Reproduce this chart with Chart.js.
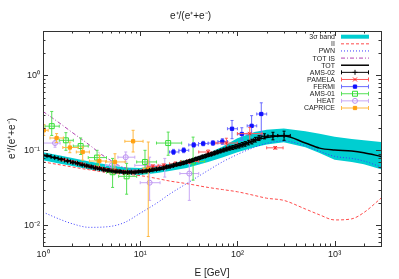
<!DOCTYPE html>
<html>
<head>
<meta charset="utf-8">
<script src="https://cdn.jsdelivr.net/npm/chart.js@4/dist/chart.umd.min.js"></script>
<style>
  body { margin: 0; background: #fff; }
</style>
</head>
<body>
<canvas id="ratio-chart" width="399" height="279"></canvas>
<script>
// model curves, all on one energy grid (GeV)
const modelE = [1, 1.5, 2, 3, 5, 7, 10, 15, 20, 30, 50, 70, 100, 150, 200, 300, 500, 700, 1000, 1500, 2000, 3000];
const bandLow = [0.074, 0.066, 0.062, 0.056, 0.050, 0.048, 0.047, 0.050, 0.053, 0.058, 0.070, 0.080, 0.094, 0.110, 0.120, 0.128, 0.110, 0.092, 0.075, 0.070, 0.065, 0.056];
const bandHigh = [0.094, 0.085, 0.079, 0.071, 0.063, 0.059, 0.058, 0.062, 0.066, 0.074, 0.092, 0.112, 0.145, 0.175, 0.188, 0.195, 0.180, 0.166, 0.152, 0.142, 0.136, 0.129];
const secondary = [0.070, 0.064, 0.060, 0.055, 0.050, 0.048, 0.046, 0.042, 0.039, 0.036, 0.032, 0.030, 0.028, 0.025, 0.023, 0.0215, 0.0165, 0.0138, 0.0118, 0.0122, 0.0148, 0.023];
const pwn = [0.015, 0.012, 0.0105, 0.0094, 0.0097, 0.011, 0.0145, 0.020, 0.026, 0.036, 0.054, 0.070, 0.088, 0.110, 0.124, 0.133, 0.115, 0.097, 0.083, 0.078, 0.072, 0.060];
const total = [0.086, 0.077, 0.071, 0.063, 0.056, 0.053, 0.052, 0.055, 0.059, 0.067, 0.083, 0.097, 0.113, 0.135, 0.148, 0.155, 0.125, 0.107, 0.101, 0.098, 0.093, 0.083];

const totIsE = [1, 1.5, 2, 3, 4, 5, 6, 8, 10];
const totIs = [0.33, 0.228, 0.173, 0.118, 0.088, 0.073, 0.063, 0.056, 0.053];

// AMS-02: bin edges, values, errors
const amsEdges = [1.0, 1.21, 1.43, 1.66, 1.92, 2.15, 2.4, 2.67, 2.97, 3.29, 3.64, 4.02, 4.43, 4.88, 5.37, 5.9, 6.47, 7.09, 7.76, 8.48, 9.26, 10.1, 11.0, 12.0, 13.0, 14.1, 15.3, 16.6, 18.0, 19.5, 21.1, 22.8, 24.7, 26.7, 28.8, 31.1, 33.5, 36.1, 38.9, 41.9, 45.1, 48.5, 52.2, 56.1, 60.3, 64.8, 69.7, 74.9, 80.5, 86.5, 93.0, 100, 108, 116, 125, 135, 147, 160, 175, 206, 260, 350];
const amsE = [1.1, 1.32, 1.54, 1.79, 2.03, 2.27, 2.53, 2.82, 3.13, 3.46, 3.83, 4.22, 4.65, 5.12, 5.63, 6.18, 6.77, 7.42, 8.11, 8.86, 9.66, 10.5, 11.5, 12.5, 13.5, 14.7, 15.9, 17.3, 18.7, 20.3, 22.0, 23.7, 25.7, 27.7, 29.9, 32.3, 34.8, 37.5, 40.4, 43.5, 46.8, 50.3, 54.1, 58.2, 62.5, 67.2, 72.3, 77.7, 83.5, 89.7, 96.5, 104, 112, 120, 130, 141, 153, 167, 190, 232, 302];
const amsRatio = [0.085, 0.080, 0.076, 0.072, 0.069, 0.067, 0.064, 0.062, 0.060, 0.058, 0.057, 0.055, 0.054, 0.053, 0.052, 0.052, 0.051, 0.051, 0.051, 0.051, 0.052, 0.052, 0.053, 0.054, 0.055, 0.056, 0.057, 0.058, 0.060, 0.061, 0.063, 0.065, 0.066, 0.068, 0.070, 0.072, 0.074, 0.077, 0.079, 0.082, 0.084, 0.087, 0.089, 0.092, 0.095, 0.098, 0.101, 0.104, 0.107, 0.109, 0.112, 0.115, 0.119, 0.122, 0.127, 0.131, 0.139, 0.146, 0.154, 0.156, 0.158];
const amsErr = [0.0015, 0.0015, 0.0015, 0.0015, 0.0015, 0.0015, 0.0015, 0.0015, 0.0015, 0.0015, 0.0015, 0.0015, 0.0015, 0.0015, 0.0015, 0.0015, 0.0015, 0.0015, 0.0015, 0.0015, 0.0017, 0.0017, 0.0018, 0.0018, 0.0019, 0.002, 0.002, 0.0021, 0.0022, 0.0023, 0.0024, 0.0025, 0.0026, 0.0027, 0.0028, 0.003, 0.0031, 0.0033, 0.0035, 0.0037, 0.0039, 0.0041, 0.0043, 0.0046, 0.0049, 0.0052, 0.0055, 0.0058, 0.0062, 0.0066, 0.007, 0.0075, 0.008, 0.0085, 0.009, 0.0095, 0.01, 0.011, 0.012, 0.018, 0.022];

const pamelaE = [1.64, 2.0, 2.45, 3.0, 3.7, 4.5, 5.5, 6.8, 8.4, 10.5, 13.5, 17.5, 23, 32, 50, 77, 134, 245];
const pamelaElo = [1.5, 1.8, 2.2, 2.7, 3.4, 4.1, 5.0, 6.1, 7.5, 9.3, 11.8, 15.3, 20, 26, 40, 60, 100, 200];
const pamelaEhi = [1.8, 2.2, 2.7, 3.4, 4.1, 5.0, 6.1, 7.5, 9.3, 11.8, 15.3, 20, 26, 40, 60, 100, 180, 295];
const pamelaRatio = [0.075, 0.07, 0.066, 0.061, 0.058, 0.055, 0.054, 0.052, 0.051, 0.053, 0.061, 0.063, 0.066, 0.071, 0.095, 0.125, 0.167, 0.108];
const pamelaErr = [0.002, 0.002, 0.002, 0.002, 0.002, 0.002, 0.002, 0.002, 0.002, 0.002, 0.003, 0.003, 0.004, 0.004, 0.006, 0.02, 0.035, 0.004];

const fermiE = [22, 28, 35.5, 44.5, 56, 70, 88, 111, 140, 176];
const fermiElo = [20, 25, 31.6, 39.8, 50, 63, 79, 100, 126, 158];
const fermiEhi = [25, 31.6, 39.8, 50, 63, 79, 100, 126, 158, 200];
const fermiRatio = [0.095, 0.1, 0.118, 0.123, 0.125, 0.131, 0.194, 0.165, 0.212, 0.305];
const fermiLo = [0.088, 0.093, 0.11, 0.115, 0.116, 0.12, 0.143, 0.136, 0.167, 0.16];
const fermiHi = [0.103, 0.108, 0.127, 0.132, 0.135, 0.143, 0.25, 0.2, 0.29, 0.43];

const ams01E = [1.23, 1.72, 2.44, 3.6, 5.2, 7.25, 11.2, 19.4, 35];
const ams01Elo = [1.05, 1.47, 2.05, 2.92, 4.5, 6.0, 9.2, 14.7, 26.7];
const ams01Ehi = [1.47, 2.05, 2.92, 4.5, 6.0, 9.2, 14.7, 26.7, 46];
const ams01Ratio = [0.21, 0.136, 0.114, 0.08, 0.051, 0.045, 0.07, 0.125, 0.071];
const ams01Lo = [0.158, 0.10, 0.088, 0.063, 0.032, 0.026, 0.05, 0.086, 0.04];
const ams01Hi = [0.33, 0.172, 0.146, 0.10, 0.078, 0.067, 0.10, 0.175, 0.15];

const heatE = [1.33, 5.1, 7.1, 12.0, 12.5, 17.9, 32];
const heatElo = [1.0, 4.4, 5.9, 8.8, 10.0, 15.0, 25.6];
const heatEhi = [1.5, 5.9, 8.8, 16.0, 16.0, 21.0, 40.0];
const heatRatio = [0.125, 0.063, 0.081, 0.063, 0.037, 0.060, 0.049];
const heatLo = [0.11, 0.055, 0.07, 0.055, 0.0215, 0.044, 0.0215];
const heatHi = [0.145, 0.072, 0.095, 0.072, 0.081, 0.078, 0.066];

const capriceE = [1.02, 1.38, 1.89, 2.56, 3.8, 5.5, 8.45, 12.1];
const capriceElo = [0.93, 1.18, 1.6, 2.2, 3.0, 4.4, 6.95, 10.7];
const capriceEhi = [1.13, 1.62, 2.3, 3.0, 4.5, 7.0, 10.7, 15.0];
const capriceRatio = [0.185, 0.146, 0.109, 0.095, 0.072, 0.070, 0.132, 0.057];
const capriceLo = [0.158, 0.127, 0.093, 0.074, 0.060, 0.054, 0.095, 0.0071];
const capriceHi = [0.22, 0.167, 0.129, 0.111, 0.086, 0.090, 0.185, 0.129];

const xTicks = [1, 10, 100, 1000];
const yTicks = [0.01, 0.1, 1];

const FONT = 'Liberation Sans, Arial, sans-serif';
const SUP = { '0': '⁰', '1': '¹', '2': '²', '3': '³', '-': '⁻' };

function pow10Label(v) {
    const e = Math.round(Math.log10(v));
    return '10' + String(e).split('').map(c => SUP[c]).join('');
}

function pts(xs, ys) {
    return xs.map((x, i) => ({ x: x, y: ys[i] }));
}

function lineSet(label, ys, color, dash, width, order) {
    return {
        label: label, data: pts(modelE, ys), showLine: true, pointRadius: 0,
        borderColor: color, borderWidth: width, borderDash: dash, fill: false,
        cubicInterpolationMode: 'monotone', order: order, kind: 'line'
    };
}

function pointSet(label, xs, ys, err, style, radius, color, fillColor, barColor, order) {
    return {
        label: label, data: pts(xs, ys), showLine: false,
        pointStyle: style, pointRadius: radius, borderWidth: 1,
        borderColor: color, backgroundColor: fillColor,
        err: err, barColor: barColor, order: order, kind: 'points'
    };
}

const datasets = [
    { label: '', data: pts(modelE, bandLow), showLine: true, pointRadius: 0, borderWidth: 0, fill: false, order: 30 },
    { label: '3σ band', data: pts(modelE, bandHigh), showLine: true, pointRadius: 0, borderWidth: 0,
      fill: '-1', backgroundColor: '#00ced1', borderColor: '#00ced1', order: 30, kind: 'band' },
    lineSet('II', secondary, '#ff4a4a', [3, 2], 1, 20),
    lineSet('PWN', pwn, '#3a3aff', [1, 2], 1, 19),
    {
        label: 'TOT IS', data: pts(totIsE, totIs), showLine: true, pointRadius: 0,
        borderColor: '#b040b0', borderWidth: 1, borderDash: [4, 2, 1, 2],
        cubicInterpolationMode: 'monotone', order: 18, kind: 'line'
    },
    lineSet('TOT', total, '#000000', [], 1.5, 13),
    pointSet('AMS-02', amsE, amsRatio, {
        xlo: amsEdges.slice(0, -1), xhi: amsEdges.slice(1),
        ylo: amsRatio.map((v, i) => v - amsErr[i]), yhi: amsRatio.map((v, i) => v + amsErr[i])
    }, 'cross', 2.5, '#000', '#000', '#000', 7),
    pointSet('PAMELA', pamelaE, pamelaRatio, {
        xlo: pamelaElo, xhi: pamelaEhi,
        ylo: pamelaRatio.map((v, i) => v - pamelaErr[i]), yhi: pamelaRatio.map((v, i) => v + pamelaErr[i])
    }, 'crossRot', 2.5, '#ff2020', '#ff2020', '#ff5a5a', 8),
    pointSet('FERMI', fermiE, fermiRatio, { xlo: fermiElo, xhi: fermiEhi, ylo: fermiLo, yhi: fermiHi },
        'rect', 2.3, '#1010ff', '#1010ff', '#6a6aff', 9),
    pointSet('AMS-01', ams01E, ams01Ratio, { xlo: ams01Elo, xhi: ams01Ehi, ylo: ams01Lo, yhi: ams01Hi },
        'rect', 3.5, '#33dd33', 'rgba(0,0,0,0)', '#55e055', 11),
    pointSet('HEAT', heatE, heatRatio, { xlo: heatElo, xhi: heatEhi, ylo: heatLo, yhi: heatHi },
        'circle', 2.5, '#bb90f0', 'rgba(0,0,0,0)', '#c8a8f5', 12),
    pointSet('CAPRICE', capriceE, capriceRatio, { xlo: capriceElo, xhi: capriceEhi, ylo: capriceLo, yhi: capriceHi },
        'rect', 2.3, '#ffa010', '#ffa010', '#ffb840', 10)
];

// gnuplot style error bars with small caps, drawn under each set's markers
const errorBars = {
    id: 'errorBars',
    beforeDatasetDraw(chart, args) {
        const ds = chart.data.datasets[args.index];
        if (!ds.err) return;
        const { ctx, chartArea: a, scales: { x, y } } = chart;
        const c = 1.5;
        ctx.save();
        ctx.beginPath();
        ctx.rect(a.left, a.top, a.right - a.left, a.bottom - a.top);
        ctx.clip();
        ctx.strokeStyle = ds.barColor;
        ctx.lineWidth = 1;
        ctx.beginPath();
        ds.data.forEach((p, i) => {
            const px = x.getPixelForValue(p.x), py = y.getPixelForValue(p.y);
            const x0 = x.getPixelForValue(ds.err.xlo[i]), x1 = x.getPixelForValue(ds.err.xhi[i]);
            const y0 = y.getPixelForValue(ds.err.ylo[i]), y1 = y.getPixelForValue(ds.err.yhi[i]);
            ctx.moveTo(x0, py); ctx.lineTo(x1, py);
            ctx.moveTo(px, y0); ctx.lineTo(px, y1);
            ctx.moveTo(x0, py - c); ctx.lineTo(x0, py + c);
            ctx.moveTo(x1, py - c); ctx.lineTo(x1, py + c);
            ctx.moveTo(px - c, y0); ctx.lineTo(px + c, y0);
            ctx.moveTo(px - c, y1); ctx.lineTo(px + c, y1);
        });
        ctx.stroke();
        ctx.restore();
    }
};

// box with inward major and minor ticks on all four sides
const frame = {
    id: 'frame',
    afterDraw(chart) {
        const { ctx, chartArea: a, scales: { x, y } } = chart;
        ctx.save();
        ctx.strokeStyle = '#333';
        ctx.lineWidth = 1;
        ctx.beginPath();
        for (let d = 0; d <= 3; d++) {
            for (let k = 1; k <= 9; k++) {
                const v = k * Math.pow(10, d);
                if (v > x.max) break;
                const px = Math.round(x.getPixelForValue(v)) + 0.5;
                const len = k === 1 ? 5 : 2.5;
                ctx.moveTo(px, a.bottom); ctx.lineTo(px, a.bottom - len);
                ctx.moveTo(px, a.top); ctx.lineTo(px, a.top + len);
            }
        }
        for (let d = -3; d <= 0; d++) {
            for (let k = 1; k <= 9; k++) {
                const v = k * Math.pow(10, d);
                if (v < y.min || v > y.max) continue;
                const py = Math.round(y.getPixelForValue(v)) + 0.5;
                const len = k === 1 ? 5 : 2.5;
                ctx.moveTo(a.left, py); ctx.lineTo(a.left + len, py);
                ctx.moveTo(a.right, py); ctx.lineTo(a.right - len, py);
            }
        }
        ctx.stroke();
        ctx.strokeRect(Math.round(a.left) + 0.5, Math.round(a.top) + 0.5,
            Math.round(a.right - a.left), Math.round(a.bottom - a.top));
        ctx.restore();
    }
};

function drawMarker(ctx, ds, x, y) {
    const r = ds.pointRadius;
    ctx.strokeStyle = ds.borderColor;
    ctx.fillStyle = ds.backgroundColor;
    ctx.lineWidth = 1;
    ctx.beginPath();
    if (ds.pointStyle === 'cross') {
        ctx.moveTo(x - r, y); ctx.lineTo(x + r, y);
        ctx.moveTo(x, y - r); ctx.lineTo(x, y + r);
    } else if (ds.pointStyle === 'crossRot') {
        const s = r * 0.8;
        ctx.moveTo(x - s, y - s); ctx.lineTo(x + s, y + s);
        ctx.moveTo(x - s, y + s); ctx.lineTo(x + s, y - s);
    } else if (ds.pointStyle === 'rect') {
        const s = r * Math.SQRT1_2;
        ctx.rect(x - s, y - s, 2 * s, 2 * s);
        ctx.fill();
    } else {
        ctx.arc(x, y, r, 0, Math.PI * 2);
        ctx.fill();
    }
    ctx.stroke();
}

// legend in the upper right, text right aligned with the key sample after it
const keyBox = {
    id: 'keyBox',
    afterDraw(chart) {
        const ctx = chart.ctx;
        const textRight = 335, x0 = 341, x1 = 369, top = 36.7, step = 7.13;
        const rows = chart.data.datasets.filter(ds => ds.kind);
        ctx.save();
        ctx.font = '7px ' + FONT;
        ctx.textAlign = 'right';
        ctx.textBaseline = 'middle';
        rows.forEach((ds, i) => {
            const y = top + i * step;
            ctx.fillStyle = '#222';
            ctx.fillText(ds.label, textRight, y + 0.5);
            if (ds.kind === 'band') {
                ctx.fillStyle = ds.backgroundColor;
                ctx.fillRect(x0, y - 2, x1 - x0, 4);
            } else if (ds.kind === 'line') {
                ctx.strokeStyle = ds.borderColor;
                ctx.lineWidth = ds.borderWidth;
                ctx.setLineDash(ds.borderDash || []);
                ctx.beginPath();
                ctx.moveTo(x0, y); ctx.lineTo(x1, y);
                ctx.stroke();
                ctx.setLineDash([]);
            } else {
                ctx.strokeStyle = ds.barColor;
                ctx.lineWidth = 1;
                ctx.beginPath();
                ctx.moveTo(x0, y); ctx.lineTo(x1, y);
                ctx.moveTo(x0 + 0.5, y - 2); ctx.lineTo(x0 + 0.5, y + 2);
                ctx.moveTo(x1 - 0.5, y - 2); ctx.lineTo(x1 - 0.5, y + 2);
                ctx.stroke();
                drawMarker(ctx, ds, (x0 + x1) / 2, y);
            }
        });
        ctx.restore();
    }
};

const tickFont = { family: FONT, size: 9 };

const config = {
    type: 'scatter',
    data: { datasets: datasets },
    options: {
        responsive: false,
        animation: false,
        devicePixelRatio: 1,
        layout: { padding: { left: 0, right: 18, top: 0, bottom: 0 } },
        plugins: {
            legend: { display: false },
            tooltip: { enabled: false },
            title: {
                display: true,
                text: 'e⁺/(e⁺+e⁻)',
                color: '#222',
                font: { family: FONT, size: 10, weight: 'normal' },
                padding: { top: 10, bottom: 9 }
            }
        },
        scales: {
            x: {
                type: 'logarithmic',
                min: 1,
                max: 3000,
                afterBuildTicks: scale => { scale.ticks = xTicks.map(v => ({ value: v })); },
                afterFit: scale => { scale.height = 33; },
                ticks: { callback: v => pow10Label(v), font: tickFont, color: '#222', padding: 3, maxRotation: 0, autoSkip: false },
                grid: { display: false, drawTicks: false },
                border: { display: false },
                title: { display: true, text: 'E [GeV]', color: '#222', font: { family: FONT, size: 10 }, padding: 0 }
            },
            y: {
                type: 'logarithmic',
                min: 0.0053,
                max: 3.9,
                afterBuildTicks: scale => { scale.ticks = yTicks.map(v => ({ value: v })); },
                afterFit: scale => { scale.width = 43; },
                ticks: { callback: v => pow10Label(v), font: tickFont, color: '#222', padding: 3, autoSkip: false },
                grid: { display: false, drawTicks: false },
                border: { display: false },
                title: { display: true, text: 'e⁺/(e⁺+e⁻)', color: '#222', font: { family: FONT, size: 10 }, padding: { top: 6, bottom: 0 } }
            }
        }
    },
    plugins: [errorBars, frame, keyBox]
};

const ratioChart = new Chart(document.getElementById('ratio-chart'), config);
</script>
</body>
</html>
